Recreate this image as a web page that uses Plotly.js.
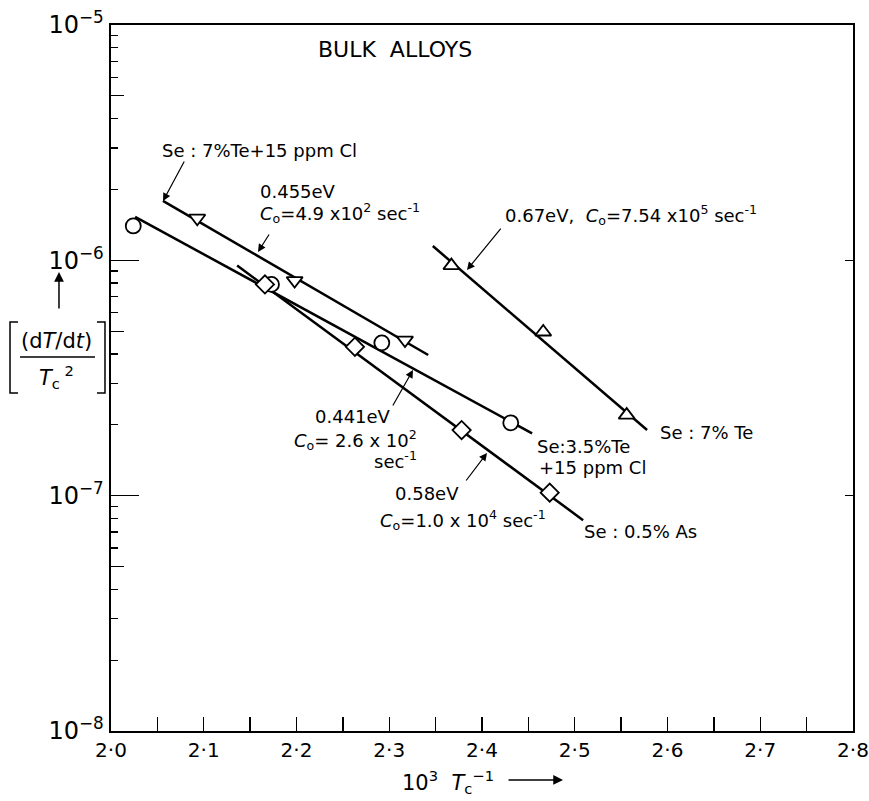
<!DOCTYPE html>
<html>
<head>
<meta charset="utf-8">
<script src="https://cdn.plot.ly/plotly-3.0.1.min.js"></script>
<style>html,body{margin:0;padding:0;background:#fff;}</style>
</head>
<body>
<div id="chart" style="width:869px;height:801px;"></div>
<script>
// ---- Data ----
// Se : 7% Te + 15 ppm Cl  (down triangles)
const teClX = [2.093, 2.198, 2.317];
const teClY = [1.51e-6, 8.2e-7, 4.58e-7];
const teClFitX = [2.056, 2.342];
const teClFitY = [1.79e-6, 3.96e-7];

// Se : 3.5% Te + 15 ppm Cl  (circles)
const te35X = [2.024, 2.173, 2.292, 2.431];
const te35Y = [1.40e-6, 7.9e-7, 4.46e-7, 2.04e-7];
const te35FitX = [2.026, 2.454];
const te35FitY = [1.53e-6, 1.84e-7];

// Se : 0.5% As  (diamonds)
const asX = [2.166, 2.263, 2.378, 2.473];
const asY = [7.9e-7, 4.29e-7, 1.90e-7, 1.03e-7];
const asFitX = [2.136, 2.509];
const asFitY = [9.5e-7, 7.87e-8];

// Se : 7% Te  (up triangles)
const te7X = [2.367, 2.466, 2.556];
const te7Y = [9.5e-7, 4.96e-7, 2.20e-7];
const te7FitX = [2.347, 2.578];
const te7FitY = [1.15e-6, 1.90e-7];

// Tick labels
const xTickVals = [2.0, 2.1, 2.2, 2.3, 2.4, 2.5, 2.6, 2.7, 2.8];
const xTickText = ['2·0','2·1','2·2','2·3','2·4','2·5','2·6','2·7','2·8'];
const yTickVals = [1e-8, 1e-7, 1e-6, 1e-5];
const yTickText = ['10<sup>−8</sup>','10<sup>−7</sup>','10<sup>−6</sup>','10<sup>−5</sup>'];
const yMidVals = [5e-8, 5e-7, 5e-6];

// ---- Build ----
const FONT = 'DejaVu Sans, Liberation Sans, sans-serif';
const minorY = [];
for (let e = -8; e < -5; e++) for (let d = 2; d <= 9; d++) minorY.push(d * Math.pow(10, e));

function fit(x, y) {
  return {x: x, y: y, type: 'scatter', mode: 'lines', line: {color: '#000', width: 2.5},
          hoverinfo: 'skip', showlegend: false};
}
function pts(x, y, sym, size) {
  return {x: x, y: y, type: 'scatter', mode: 'markers', showlegend: false,
          marker: {symbol: sym, size: size, color: '#fff', line: {color: '#000', width: 1.8}}};
}

const data = [
  fit(teClFitX, teClFitY), fit(te35FitX, te35FitY), fit(asFitX, asFitY), fit(te7FitX, te7FitY),
  pts(teClX, teClY, 'triangle-down', 14),
  pts(te35X, te35Y, 'circle', 15),
  pts(asX, asY, 'diamond', 14),
  pts(te7X, te7Y, 'triangle-up', 14),
  // invisible traces to anchor overlay axes
  {x: [2.0], y: [1e-6], type: 'scatter', mode: 'markers', marker: {opacity: 0}, yaxis: 'y2', hoverinfo: 'skip', showlegend: false},
  {x: [2.0], y: [1e-6], type: 'scatter', mode: 'markers', marker: {opacity: 0}, yaxis: 'y3', hoverinfo: 'skip', showlegend: false}
];

const txt = (s, x, y, opts) => Object.assign({
  text: s, x: x, y: y, xref: 'paper', yref: 'paper', xanchor: 'left', yanchor: 'middle',
  showarrow: false, font: {family: FONT, size: 18, color: '#000'}
}, opts || {});
const arr = (x, ly, ax, ay) => ({
  text: '', x: x, y: ly, xref: 'x', yref: 'y', ax: ax, ay: ay, showarrow: true,
  arrowhead: 2, arrowsize: 1.3, arrowwidth: 1.2, arrowcolor: '#000', standoff: 0, startstandoff: 0
});

const annotations = [
  txt('BULK  ALLOYS', 0.2763, 0.9646, {font: {family: FONT, size: 22, color: '#000'}}),
  txt('Se : 7%Te+15 ppm Cl', 0.0660, 0.8229),
  txt('0.455eV', 0.1981, 0.7635),
  txt('<i>C</i><sub>o</sub>=4.9 x10<sup>2</sup> sec<sup>-1</sup>', 0.1981, 0.7337),
  txt('0.67eV,  <i>C</i><sub>o</sub>=7.54 x10<sup>5</sup> sec<sup>-1</sup>', 0.5283, 0.7309),
  txt('Se : 7% Te', 0.7372, 0.4221),
  txt('Se:3.5%Te', 0.5714, 0.4023),
  txt('+15 ppm Cl', 0.5741, 0.3739),
  txt('Se : 0.5% As', 0.6348, 0.2819),
  txt('0.441eV', 0.2722, 0.4448),
  txt('<i>C</i><sub>o</sub>= 2.6 x 10<sup>2</sup>', 0.2439, 0.4122),
  txt('sec<sup>-1</sup>', 0.3518, 0.3839),
  txt('0.58eV', 0.3801, 0.3371),
  txt('<i>C</i><sub>o</sub>=1.0 x 10<sup>4</sup> sec<sup>-1</sup>', 0.3598, 0.2989),
  // arrows to the fitted lines
  arr(2.0561, -5.7479, 22, -41),
  arr(2.1585, -5.9646, 12, -19),
  arr(2.3838, -6.0411, 35, -43),
  arr(2.3256, -6.4660, -21, 37),
  arr(2.4054, -6.8187, -22, 29),
  // y-axis label
  txt('(d<i>T</i>/d<i>t</i>)', -0.0735, 0.5530, {xanchor: 'center', font: {family: FONT, size: 21, color: '#000'}}),
  txt('<i>T</i><sub>c</sub><sup> 2</sup>', -0.0735, 0.5020, {xanchor: 'center', font: {family: FONT, size: 21, color: '#000'}}),
  {text: '', x: -0.0701, y: 0.6501, xref: 'paper', yref: 'paper', ax: 0, ay: 38, showarrow: true,
   arrowhead: 2, arrowsize: 1.3, arrowwidth: 1.5, arrowcolor: '#000', standoff: 0},
  // x-axis label
  txt('10<sup>3</sup>  <i>T</i><sub>c</sub><sup>−1</sup>', 0.3900, -0.0720, {font: {family: FONT, size: 21, color: '#000'}}),
  {text: '', x: 0.6092, y: -0.0694, xref: 'paper', yref: 'paper', ax: -56, ay: 0, showarrow: true,
   arrowhead: 2, arrowsize: 1.3, arrowwidth: 1.5, arrowcolor: '#000', standoff: 0}
];

const shapes = [
  // left bracket
  {type: 'path', xref: 'paper', yref: 'paper', path: 'M -0.1253 0.5793 L -0.1361 0.5793 L -0.1361 0.4788 L -0.1253 0.4788', line: {color: '#000', width: 1.5}},
  // right bracket
  {type: 'path', xref: 'paper', yref: 'paper', path: 'M -0.0189 0.5793 L -0.0081 0.5793 L -0.0081 0.4788 L -0.0189 0.4788', line: {color: '#000', width: 1.5}},
  // fraction bar
  {type: 'line', xref: 'paper', yref: 'paper', x0: -0.1226, x1: -0.0216, y0: 0.5297, y1: 0.5297, line: {color: '#000', width: 1.5}}
];

const layout = {
  width: 869, height: 801,
  margin: {l: 111, r: 16, t: 25, b: 70},
  paper_bgcolor: '#fff', plot_bgcolor: '#fff',
  showlegend: false,
  font: {family: FONT, color: '#000', size: 18},
  xaxis: {
    range: [2.0, 2.8], tickmode: 'array', tickvals: xTickVals, ticktext: xTickText,
    ticks: 'inside', ticklen: 14, tickwidth: 1.3, tickcolor: '#000',
    minor: {dtick: 0.05, tick0: 2.0, ticks: 'inside', ticklen: 14, tickwidth: 1.3, tickcolor: '#000'},
    showline: true, linecolor: '#000', linewidth: 2, mirror: true,
    ticklabeloverflow: 'allow', automargin: false,
    showgrid: false, zeroline: false, tickfont: {family: FONT, size: 20, color: '#000'},
    title: {text: ''}
  },
  yaxis: {
    type: 'log', range: [-8, -5], tickmode: 'array', tickvals: yTickVals, ticktext: yTickText,
    ticks: 'inside', ticklen: 28, tickwidth: 1.5, tickcolor: '#000',
    minor: {tickmode: 'array', tickvals: minorY, ticks: 'inside', ticklen: 7, tickwidth: 1.3, tickcolor: '#000'},
    showline: true, linecolor: '#000', linewidth: 2.5,
    ticklabeloverflow: 'allow', automargin: false,
    showgrid: false, zeroline: false, tickfont: {family: FONT, size: 24, color: '#000'},
    title: {text: ''}
  },
  yaxis2: {
    type: 'log', range: [-8, -5], overlaying: 'y', side: 'left',
    tickmode: 'array', tickvals: yMidVals, showticklabels: false,
    ticks: 'inside', ticklen: 13, tickwidth: 1.3, tickcolor: '#000',
    showline: false, showgrid: false, zeroline: false
  },
  yaxis3: {
    type: 'log', range: [-8, -5], overlaying: 'y', side: 'right',
    tickmode: 'array', tickvals: yTickVals, showticklabels: false,
    ticks: 'inside', ticklen: 8, tickwidth: 1.3, tickcolor: '#000',
    showline: true, linecolor: '#000', linewidth: 1.5, showgrid: false, zeroline: false
  },
  annotations: annotations,
  shapes: shapes
};

Plotly.newPlot('chart', data, layout, {displayModeBar: false, staticPlot: true});
</script>
</body>
</html>
